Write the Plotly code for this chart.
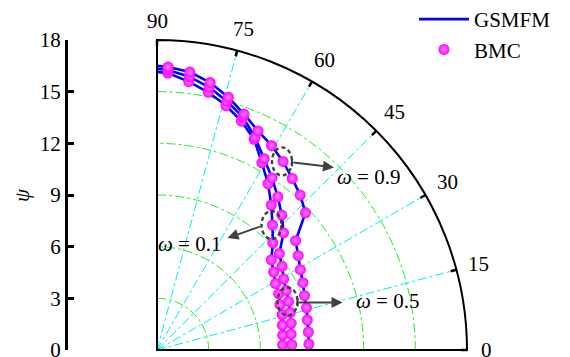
import plotly.graph_objects as go
import math

# ---- data: polar angle (deg) and psi for three omega values ----
theta_deg = [2.25, 6.75, 11.25, 15.75, 20.25, 24.75, 29.25, 33.75, 38.25, 42.75,
             47.25, 51.75, 56.25, 60.75, 65.25, 69.75, 74.25, 78.75, 83.25, 87.75]

bmc_w01 = [7.30, 7.35, 7.42, 7.55, 7.61, 7.78, 7.89, 8.14, 8.45, 9.16,
           9.88, 10.72, 11.61, 12.46, 13.47, 14.16, 14.75, 15.26, 15.69, 16.09]
bmc_w05 = [7.83, 7.84, 7.94, 8.04, 8.14, 8.26, 8.43, 8.73, 9.04, 10.01,
           10.67, 11.33, 12.02, 12.73, 13.60, 14.41, 15.00, 15.55, 15.98, 16.27]
bmc_w09 = [8.83, 8.85, 8.90, 9.02, 9.13, 9.33, 9.54, 9.86, 10.25, 11.74,
           12.25, 12.68, 13.17, 13.61, 14.01, 14.60, 15.25, 15.83, 16.25, 16.44]

theta_line = [2.25, 6.75, 11.25, 15.75, 20.25, 24.75, 29.25, 33.75, 38.25, 42.75,
              47.25, 51.75, 56.25, 60.75, 65.25, 69.75, 74.25, 78.75, 83.25, 87.75, 90.0]
gsmfm_w01 = [7.30, 7.35, 7.42, 7.55, 7.61, 7.78, 7.89, 8.14, 8.45, 9.16,
             9.88, 10.72, 11.61, 12.46, 13.47, 14.16, 14.75, 15.26, 15.69, 16.09, 16.15]
gsmfm_w05 = [7.83, 7.84, 7.94, 8.04, 8.14, 8.26, 8.43, 8.73, 9.04, 10.01,
             10.67, 11.33, 12.02, 12.73, 13.60, 14.41, 15.00, 15.55, 15.98, 16.27, 16.33]
gsmfm_w09 = [8.83, 8.85, 8.90, 9.02, 9.13, 9.33, 9.54, 9.86, 10.25, 11.74,
             12.25, 12.68, 13.17, 13.61, 14.01, 14.60, 15.25, 15.83, 16.25, 16.44, 16.50]

angular_ticks = [0, 15, 30, 45, 60, 75, 90]
radial_grid = [3, 6, 9, 12, 15]
psi_ticks = [0, 3, 6, 9, 12, 15, 18]
psi_max = 18

# ---- layout geometry (pixels) ----
W, H = 570, 357
CX, CY, RAD = 157, 350, 310          # polar origin and outer radius
AXIS_X = 66                          # left psi axis
FONT = "Liberation Serif, Times New Roman, serif"
GRAY = "#404040"

dom_x = [CX / W, (CX + RAD) / W]
dom_y = [(H - CY) / H, (H - CY + RAD) / H]


def to_px(theta, r):
    a = math.radians(theta)
    s = RAD / psi_max
    return CX + r * s * math.cos(a), CY - r * s * math.sin(a)


def px(x, y):
    return x / W, 1 - y / H


fig = go.Figure()

line_style = dict(color="#0000ff", width=2.6)
for i, rr in enumerate([gsmfm_w01, gsmfm_w05, gsmfm_w09]):
    fig.add_trace(go.Scatterpolar(
        theta=theta_line, r=rr, mode="lines", line=line_style,
        name="GSMFM", legendgroup="gsmfm", showlegend=(i == 0), hoverinfo="skip"))

marker_style = dict(color="#ff00ff", size=11,
                    gradient=dict(type="radial", color="#ff88ff"),
                    line=dict(width=0))
for i, rr in enumerate([bmc_w01, bmc_w05, bmc_w09]):
    fig.add_trace(go.Scatterpolar(
        theta=theta_deg, r=rr, mode="markers", marker=marker_style,
        name="BMC", legendgroup="bmc", showlegend=(i == 0), hoverinfo="skip"))

# helper trace so the left psi axis is drawn
fig.add_trace(go.Scatter(x=[0], y=[0], mode="markers", marker=dict(opacity=0),
                         showlegend=False, hoverinfo="skip", xaxis="x", yaxis="y"))

shapes = []
annotations = []

# inward tick marks on the outer arc, labels centred outside it
s_px = RAD / psi_max
tick_in = 6 / s_px
for t in angular_ticks:
    ax0, ay0 = px(*to_px(t, psi_max))
    ax1, ay1 = px(*to_px(t, psi_max - tick_in))
    shapes.append(dict(type="line", xref="paper", yref="paper", x0=ax0, y0=ay0, x1=ax1, y1=ay1,
                       line=dict(color="black", width=2.5)))
    dist = 329 + 7 * math.sin(math.radians(2 * t))
    lx, ly = px(*to_px(t, dist / s_px))
    annotations.append(dict(x=lx, y=ly, xref="paper", yref="paper", text=str(t),
                            showarrow=False, xanchor="center", yanchor="middle",
                            font=dict(family=FONT, size=21, color="black")))

# dashed ellipses around selected points, with arrows and omega labels
callouts = [
    # (curve, index, label, tail side, head offset px, text offset px)
    (bmc_w09, 12, "0.9", "right", (52, 6), (53, 16)),
    (bmc_w01, 10, "0.1", "left", (-44, 13), (-116, 19)),
    (bmc_w05, 4, "0.5", "right", (55, 1), (66, 0)),
]
for rr, idx, lab, side, head, txt in callouts:
    ex, ey = to_px(theta_deg[idx], rr[idx])
    ex -= 1
    x0, y0 = px(ex - 10, ey - 14)
    x1, y1 = px(ex + 10, ey + 14)
    shapes.append(dict(type="circle", xref="paper", yref="paper", x0=x0, y0=y1, x1=x1, y1=y0,
                       line=dict(color=GRAY, width=2.4, dash="4px,3px")))
    tx = ex + (10 if side == "right" else -10)
    ty = ey + 1
    hx, hy = ex + head[0], ey + head[1]
    if side == "right":
        bx, by0 = px(tx, ty - 4)
        _, by1 = px(tx, ty + 4)
        shapes.append(dict(type="line", xref="paper", yref="paper", x0=bx, y0=by0, x1=bx, y1=by1,
                           line=dict(color=GRAY, width=2)))
    hxp, hyp = px(hx, hy)
    annotations.append(dict(x=hxp, y=hyp, xref="paper", yref="paper", text="",
                            showarrow=True, ax=tx - hx, ay=ty - hy, axref="pixel", ayref="pixel",
                            arrowhead=2, arrowsize=1.1, arrowwidth=2, arrowcolor=GRAY,
                            standoff=0, startstandoff=0))
    lx, ly = px(ex + txt[0], ey + txt[1])
    annotations.append(dict(x=lx, y=ly, xref="paper", yref="paper",
                            text="<i>ω</i> = " + lab, showarrow=False,
                            xanchor="left", yanchor="middle",
                            font=dict(family=FONT, size=21, color="black")))

# psi axis title
annotations.append(dict(x=22 / W, y=1 - 195 / H, xref="paper", yref="paper",
                        text="<i>ψ</i>", showarrow=False, textangle=-90,
                        xanchor="center", yanchor="middle",
                        font=dict(family=FONT, size=21, color="black")))

fig.update_layout(
    width=W, height=H,
    margin=dict(l=0, r=0, t=0, b=0, autoexpand=False),
    paper_bgcolor="white", plot_bgcolor="white",
    font=dict(family=FONT, size=20, color="black"),
    polar=dict(
        domain=dict(x=dom_x, y=dom_y),
        sector=[0, 90],
        bgcolor="white",
        radialaxis=dict(range=[0, psi_max], tickvals=radial_grid, showticklabels=False,
                        ticks="", showline=False, gridcolor="#22ee22", gridwidth=1,
                        griddash="dashdot"),
        angularaxis=dict(rotation=0, direction="counterclockwise", tickvals=angular_ticks,
                         ticks="", showticklabels=False,
                         showline=True, linecolor="black", linewidth=2,
                         gridcolor="#00eeee", gridwidth=1, griddash="dashdot"),
    ),
    xaxis=dict(visible=False, domain=[0, 0.05], range=[0, 1], anchor="y"),
    yaxis=dict(domain=dom_y, range=[0, psi_max], anchor="free", position=AXIS_X / W,
               tickvals=psi_ticks, ticks="inside", ticklen=6, tickwidth=3, tickcolor="black",
               showline=True, linewidth=3, linecolor="black", showgrid=False, zeroline=False,
               ticklabeloverflow="allow",
               tickfont=dict(family=FONT, size=21, color="black")),
    legend=dict(x=414 / W, y=1.003, xanchor="left", yanchor="top",
                bgcolor="rgba(0,0,0,0)", itemwidth=50, tracegroupgap=0,
                font=dict(family=FONT, size=21, color="black")),
    shapes=shapes,
    annotations=annotations,
)

fig.write_html("out.html")
